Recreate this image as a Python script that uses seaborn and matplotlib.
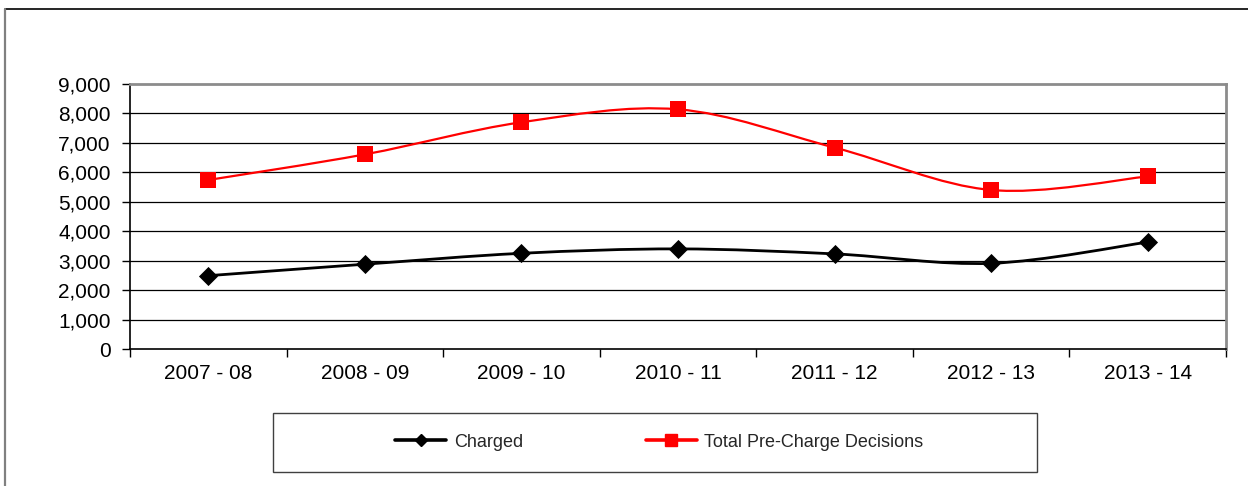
import numpy as np
import pandas as pd
import matplotlib
matplotlib.use("Agg")
import matplotlib.pyplot as plt
import seaborn as sns
from matplotlib.path import Path
from matplotlib.patches import PathPatch, Rectangle
from matplotlib.lines import Line2D
from matplotlib.ticker import FuncFormatter, FixedLocator

categories = ["2007 - 08", "2008 - 09", "2009 - 10", "2010 - 11", "2011 - 12", "2012 - 13", "2013 - 14"]
charged = [2490, 2880, 3250, 3400, 3230, 2910, 3630]
total_pre_charge = [5740, 6610, 7700, 8140, 6840, 5400, 5860]
series_names = ["Charged", "Total Pre-Charge Decisions"]
yticks = [0, 1000, 2000, 3000, 4000, 5000, 6000, 7000, 8000, 9000]

sns.set_theme(style="white")
plt.rcParams['font.family'] = ['Liberation Sans', 'DejaVu Sans']

W, H = 1248, 486
fig = plt.figure(figsize=(W / 100, H / 100), dpi=100)
ax = fig.add_axes([130 / W, 1 - 349 / H, (1226 - 130) / W, (349 - 84) / H])

x = np.arange(len(categories))
df = pd.DataFrame({"x": np.concatenate([x, x]),
                   "value": charged + total_pre_charge,
                   "series": [series_names[0]] * len(x) + [series_names[1]] * len(x)})


def smooth_path(xs, ys):
    pts = np.column_stack([xs, ys]).astype(float)
    n = len(pts)
    verts = [pts[0]]
    codes = [Path.MOVETO]
    for i in range(n - 1):
        p0 = pts[i - 1] if i > 0 else pts[i]
        p1 = pts[i]
        p2 = pts[i + 1]
        p3 = pts[i + 2] if i + 2 < n else pts[i + 1]
        c1 = p1 + (p2 - p0) / 6.0
        c2 = p2 - (p3 - p1) / 6.0
        verts += [c1, c2, p2]
        codes += [Path.CURVE4] * 3
    return Path(verts, codes)


ax.add_patch(PathPatch(smooth_path(x, charged), fill=False, edgecolor="black", lw=2.0, zorder=3))
ax.add_patch(PathPatch(smooth_path(x, total_pre_charge), fill=False, edgecolor="#ff0000", lw=1.6, zorder=3))

sns.scatterplot(data=df[df.series == series_names[0]], x="x", y="value", marker="D", s=95,
                color="black", edgecolor="black", linewidth=0, ax=ax, zorder=4, legend=False)
sns.scatterplot(data=df[df.series == series_names[1]], x="x", y="value", marker="s", s=125,
                color="#ff0000", edgecolor="#ff0000", linewidth=0, ax=ax, zorder=4, legend=False)

ax.set_xlim(-0.5, len(categories) - 0.5)
ax.set_ylim(0, 9000)
ax.set_xlabel("")
ax.set_ylabel("")

ax.yaxis.set_major_locator(FixedLocator(yticks))
ax.yaxis.set_major_formatter(FuncFormatter(lambda v, p: f"{int(v):,}"))
ax.xaxis.set_major_locator(FixedLocator(np.arange(-0.5, len(categories), 1.0)))
ax.xaxis.set_major_formatter(FuncFormatter(lambda v, p: ""))
ax.xaxis.set_minor_locator(FixedLocator(x))
ax.set_xticklabels(categories, minor=True)

ax.tick_params(axis="y", which="major", direction="out", length=6, width=1, color="black",
               labelsize=15, labelcolor="black", pad=8, left=True)
ax.tick_params(axis="x", which="major", direction="out", length=6, width=1, color="black", bottom=True)
ax.tick_params(axis="x", which="minor", length=0, labelsize=15, labelcolor="black", pad=11)

for yv in yticks[1:-1]:
    ax.axhline(yv, color="black", lw=0.9, zorder=1)

for s in ["left", "bottom"]:
    ax.spines[s].set_color("black")
    ax.spines[s].set_linewidth(1.2)
for s in ["top", "right"]:
    ax.spines[s].set_color("#8c8c8c")
    ax.spines[s].set_linewidth(2.0)
ax.set_facecolor("white")

# outer chart frame
fig.add_artist(Line2D([5 / W, 1.0], [1 - 9.5 / H, 1 - 9.5 / H], color="black", lw=1.2,
                      transform=fig.transFigure))
fig.add_artist(Line2D([5 / W, 5 / W], [0, 1 - 9.5 / H], color="#808080", lw=1.6,
                      transform=fig.transFigure))

# legend frame
fig.add_artist(Rectangle((272.5 / W, 1 - 471.5 / H), (1037 - 272.5) / W, (471.5 - 412.5) / H,
                         transform=fig.transFigure, fill=False, edgecolor="#404040", lw=1.0))
handles = [Line2D([], [], color="black", lw=2.6, marker="D", markersize=6),
           Line2D([], [], color="#ff0000", lw=2.6, marker="s", markersize=8)]
fig.legend(handles, series_names, loc="center left", bbox_to_anchor=(395 / W, 1 - 442 / H),
           ncol=2, frameon=False, fontsize=13, handlelength=2.85, handletextpad=0.4,
           columnspacing=6.8, borderpad=0, borderaxespad=0)

fig.savefig("out.png", dpi=100, facecolor="white")
